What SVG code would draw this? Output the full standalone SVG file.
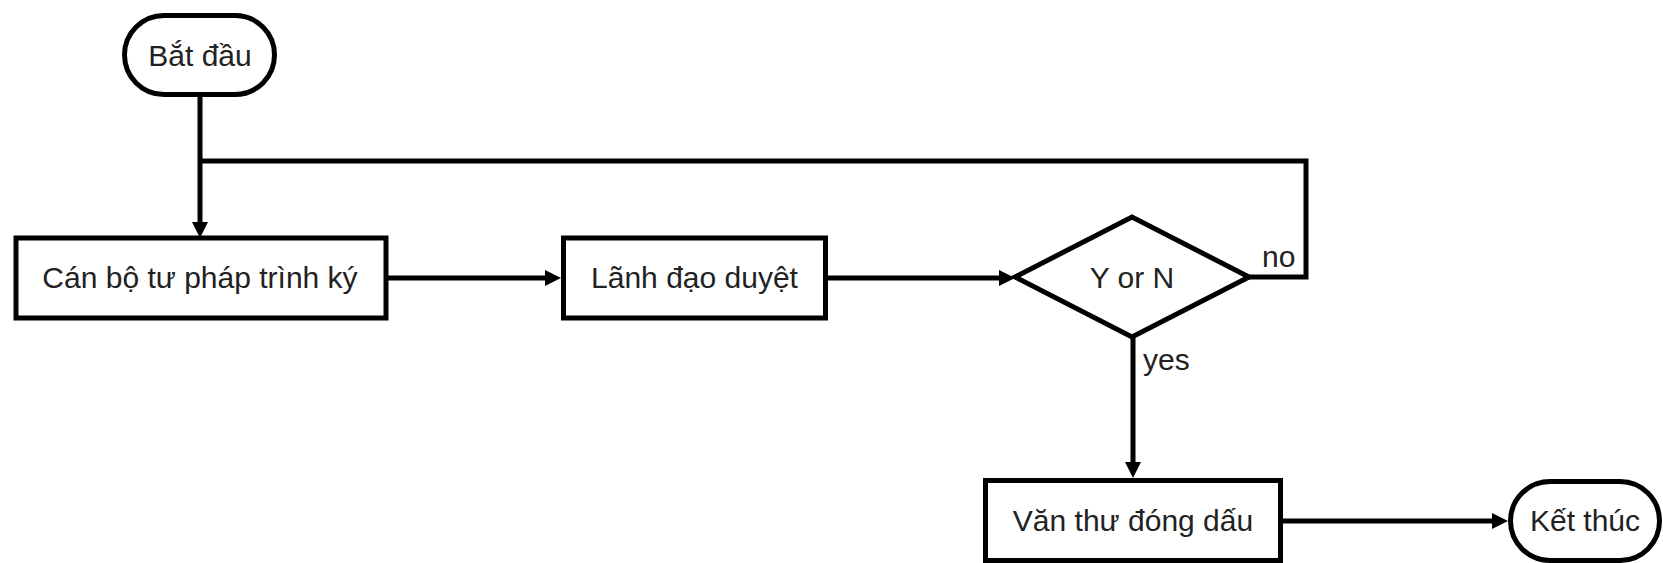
<svg xmlns="http://www.w3.org/2000/svg" width="1663" height="563" viewBox="0 0 1663 563">
<style>
.shape{fill:#fff;stroke:#000;stroke-width:5}
.conn{fill:none;stroke:#000;stroke-width:5}
.lbl{font-family:"Liberation Sans",Arial,sans-serif;font-size:30px;fill:#222;text-anchor:middle}
.elbl{font-family:"Liberation Sans",Arial,sans-serif;font-size:30px;fill:#222}
</style>
<defs>
<marker id="arr" markerUnits="userSpaceOnUse" markerWidth="18" markerHeight="18" refX="6" refY="8" orient="auto" viewBox="0 0 18 18">
<path d="M0,0 L16,8 L0,16 z" fill="#000"/>
</marker>
</defs>
<rect width="1663" height="563" fill="#fff"/>
<g id="connectors">
<path class="conn" d="M200,95 V228" marker-end="url(#arr)"/>
<path class="conn" d="M1248,277 H1306 V161 H200"/>
<path class="conn" d="M387,278 H551" marker-end="url(#arr)"/>
<path class="conn" d="M826,278 H1005" marker-end="url(#arr)"/>
<path class="conn" d="M1133,337 V468" marker-end="url(#arr)"/>
<path class="conn" d="M1282,521 H1498" marker-end="url(#arr)"/>
<text class="elbl" x="1262" y="267">no</text>
<text class="elbl" x="1143" y="370">yes</text>
</g>
<g id="start">
<rect class="shape" x="124.5" y="15.5" width="150" height="79" rx="39.5"/>
<text class="lbl" x="200" y="65.5">Bắt đầu</text>
</g>
<g id="canbo">
<rect class="shape" x="16" y="238" width="370" height="80"/>
<text class="lbl" x="200" y="288">Cán bộ tư pháp trình ký</text>
</g>
<g id="lanhdao">
<rect class="shape" x="563.5" y="238" width="262" height="80"/>
<text class="lbl" x="694.5" y="288">Lãnh đạo duyệt</text>
</g>
<g id="decision">
<polygon class="shape" points="1015,277 1132,217 1249,277 1132,337"/>
<text class="lbl" x="1132" y="288">Y or N</text>
</g>
<g id="vanthu">
<rect class="shape" x="985.5" y="480.5" width="295" height="80"/>
<text class="lbl" x="1133" y="531">Văn thư đóng dấu</text>
</g>
<g id="end">
<rect class="shape" x="1510.5" y="481.5" width="149" height="79" rx="39.5"/>
<text class="lbl" x="1585" y="531">Kết thúc</text>
</g>
</svg>
